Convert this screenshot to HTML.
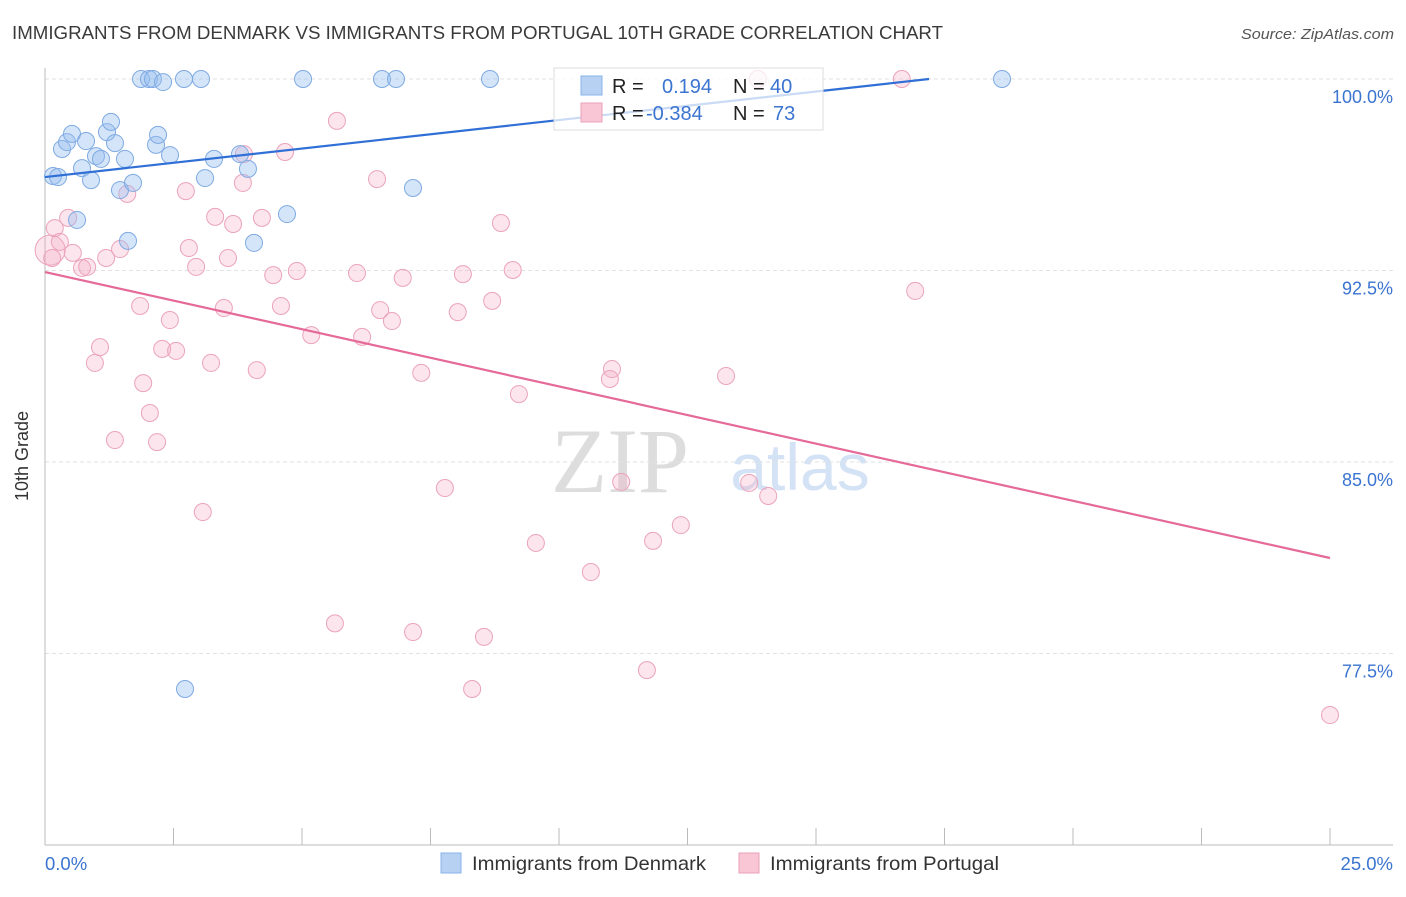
<!DOCTYPE html>
<html><head><meta charset="utf-8"><style>
body{margin:0;background:#fff;font-family:"Liberation Sans",sans-serif}
</style></head><body>
<svg width="1406" height="892" viewBox="0 0 1406 892" xmlns="http://www.w3.org/2000/svg">
<text x="12" y="39" font-size="18.5" textLength="931" lengthAdjust="spacingAndGlyphs" fill="#3a3a3a">IMMIGRANTS FROM DENMARK VS IMMIGRANTS FROM PORTUGAL 10TH GRADE CORRELATION CHART</text>
<text x="1241" y="39" font-size="15" textLength="153" lengthAdjust="spacingAndGlyphs" fill="#555" font-style="italic">Source: ZipAtlas.com</text>
<text x="620" y="492" font-size="92" fill="#ddd" font-family="Liberation Serif,serif" text-anchor="middle">ZIP</text>
<text x="800" y="490" font-size="66" fill="#d4e2f5" text-anchor="middle">atlas</text>
<g id="grid"></g>
<g id="axes"></g>
<g id="pts"></g>
<g id="trend"></g>
<text x="28" y="456" font-size="18" fill="#333" text-anchor="middle" transform="rotate(-90 28 456)">10th Grade</text>
<g>
<rect x="554" y="68" width="269" height="62" fill="rgba(255,255,255,0.75)" stroke="#ddd"/>
<rect x="581" y="76" width="21" height="19" fill="#b7d1f3" stroke="#8ab4e8"/>
<rect x="581" y="103" width="21" height="19" fill="#f8c6d5" stroke="#eaa0b8"/>
<text x="612" y="93" font-size="20" fill="#222">R =</text>
<text x="662" y="93" font-size="20" fill="#3b74d0">0.194</text>
<text x="733" y="93" font-size="20" fill="#222">N =</text>
<text x="770" y="93" font-size="20" fill="#3b74d0">40</text>
<text x="612" y="120" font-size="20" fill="#222">R =</text>
<text x="646" y="120" font-size="20" fill="#3b74d0">-0.384</text>
<text x="733" y="120" font-size="20" fill="#222">N =</text>
<text x="773" y="120" font-size="20" fill="#3b74d0">73</text>
</g>
<text x="45" y="870" font-size="18.5" fill="#3b74d0">0.0%</text>
<text x="1393" y="870" font-size="18.5" fill="#3b74d0" text-anchor="end">25.0%</text>
<g>
<rect x="441" y="853" width="20" height="20" fill="#b7d1f3" stroke="#8ab4e8"/>
<text x="472" y="870" font-size="19.5" textLength="234" lengthAdjust="spacingAndGlyphs" fill="#333">Immigrants from Denmark</text>
<rect x="739" y="853" width="20" height="20" fill="#f8c6d5" stroke="#eaa0b8"/>
<text x="770" y="870" font-size="19.5" textLength="229" lengthAdjust="spacingAndGlyphs" fill="#333">Immigrants from Portugal</text>
</g>
</svg>
<script>
const yTicks=[100,92.5,85,77.5];
const yTickLabels=["100.0%","92.5%","85.0%","77.5%"];
const xTickVals=[0,2.5,5,7.5,10,12.5,15,17.5,20,22.5,25];
const denX=[0.156,0.253,0.331,0.428,0.525,0.623,0.720,0.798,0.895,0.992,1.089,1.206,1.284,1.362,1.459,1.556,1.712,1.615,1.868,2.023,2.101,2.296,2.160,2.199,2.432,2.704,3.035,3.113,3.288,3.794,3.949,4.066,4.708,5.020,6.556,6.829,7.159,8.657,18.619,2.724];
const denY=[96.20,96.16,97.26,97.53,97.85,94.48,96.51,97.57,96.04,96.98,96.87,97.92,98.32,97.49,95.65,96.87,95.93,93.66,100,100,100,99.88,97.42,97.81,97.02,100,100,96.12,96.87,97.06,96.48,93.58,94.71,100,100,100,95.73,100,100,76.11];
const porX=[0.10,0.14,0.19,0.29,0.45,0.54,0.72,0.82,0.97,1.07,1.19,1.36,1.46,1.60,1.85,1.91,2.04,2.18,2.28,2.43,2.55,2.74,2.80,2.94,3.07,3.23,3.31,3.48,3.56,3.66,3.85,3.87,4.12,4.22,4.44,4.59,4.67,4.90,5.18,5.64,5.68,6.07,6.17,6.46,6.52,6.75,6.96,7.16,7.32,7.78,8.03,8.13,8.31,8.54,8.70,8.87,9.10,9.22,9.55,10.62,10.99,11.03,11.21,11.71,11.83,12.37,13.25,13.70,14.07,13.87,16.67,16.93,25.0];
const porY=[93.30,92.99,94.16,93.62,94.56,93.19,92.60,92.64,88.88,89.50,92.99,85.86,93.34,95.50,91.11,88.09,86.92,85.78,89.43,90.56,89.35,95.61,93.38,92.64,83.04,88.88,94.60,91.03,92.99,94.32,95.93,97.06,88.60,94.56,92.32,91.11,97.14,92.48,89.97,78.68,98.36,92.40,89.90,96.08,90.95,90.52,92.21,78.34,88.49,83.98,90.87,92.36,76.11,78.15,91.31,94.36,92.52,87.66,81.83,80.69,88.25,88.64,84.22,76.85,81.91,82.53,88.37,84.18,83.67,100,100,91.70,75.09];
const denTrendX=[0,17.2];
const denTrendY=[96.16,100];
const porTrendX=[0,25];
const porTrendY=[92.44,81.24];
const NS="http://www.w3.org/2000/svg";
const X=v=>45+v/25*1285;
const Y=v=>79+(100-v)/7.5*191.5;
function mk(t,a,p){const e=document.createElementNS(NS,t);for(const k in a)e.setAttribute(k,a[k]);p.appendChild(e);return e;}
const grid=document.getElementById('grid'),axes=document.getElementById('axes'),pts=document.getElementById('pts'),tr=document.getElementById('trend');
yTicks.forEach((v,i)=>{
 const l=mk('line',{x1:45,x2:1393,y1:Y(v),y2:Y(v),stroke:'#e2e2e2','stroke-dasharray':'4 3'},grid);
 
 
 const t=mk('text',{x:1393,y:Y(v)+24,'font-size':18,fill:'#3b74d0','text-anchor':'end'},grid);
 t.textContent=yTickLabels[i];
 
 
});
const ax=mk('line',{x1:45,x2:45,y1:68,y2:845,stroke:'#bbb'},axes);


const bx=mk('line',{x1:45,x2:1393,y1:845,y2:845,stroke:'#bbb'},axes);


xTickVals.forEach(v=>{
 const t=mk('line',{x1:X(v),x2:X(v),y1:828,y2:845,stroke:'#bbb'},axes);
 
 
});
porX.forEach((v,i)=>{
 const c=mk('circle',{cx:X(v),cy:Y(porY[i]),r:i===0?15:8.5,fill:'rgba(244,170,195,0.3)',stroke:'#eba3bb','stroke-width':1},pts);
 
 
});
denX.forEach((v,i)=>{
 const c=mk('circle',{cx:X(v),cy:Y(denY[i]),r:8.5,fill:'rgba(150,190,240,0.4)',stroke:'#7eaae2','stroke-width':1},pts);
 
 
});
const tb=mk('line',{x1:X(denTrendX[0]),y1:Y(denTrendY[0]),x2:X(denTrendX[1]),y2:Y(denTrendY[1]),stroke:'#2f6fd6','stroke-width':2.2},tr);


const tp=mk('line',{x1:X(porTrendX[0]),y1:Y(porTrendY[0]),x2:X(porTrendX[1]),y2:Y(porTrendY[1]),stroke:'#e56a98','stroke-width':2.2},tr);


</script>
</body></html>
